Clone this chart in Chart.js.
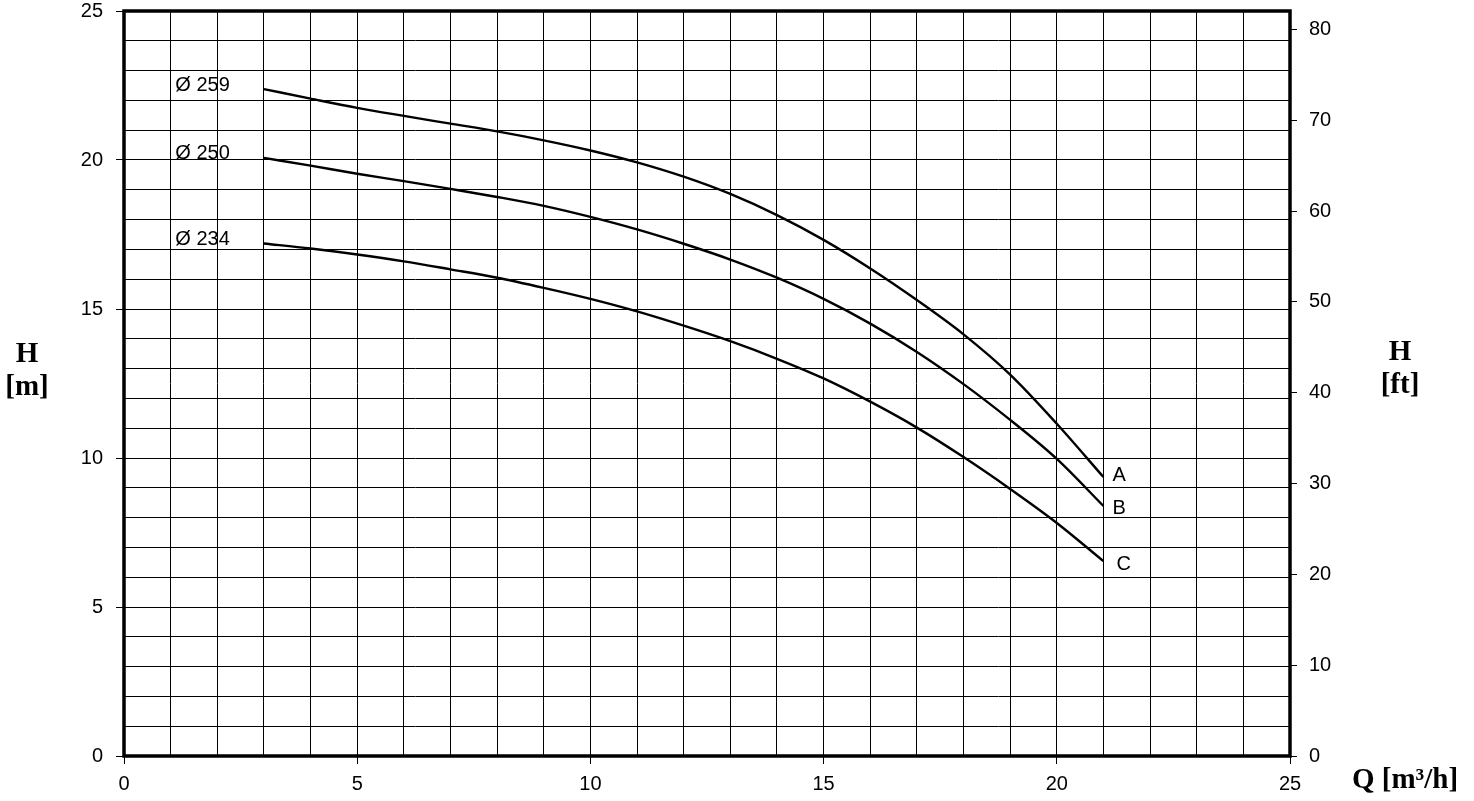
<!DOCTYPE html>
<html>
<head>
<meta charset="utf-8">
<script src="https://cdn.jsdelivr.net/npm/chart.js@4/dist/chart.umd.min.js"></script>
<style>
html,body{margin:0;padding:0;background:#fff;}
#wrap{position:relative;width:1474px;height:801px;}
</style>
</head>
<body>
<div id="wrap"><canvas id="c" width="1474" height="801"></canvas></div>
<script>
// ---- data ----
const flowQ = [3,4,5,6,7,8,9,10,11,12,13,14,15,16,17,18,19,20,21];
const headA = [22.38,22.06,21.75,21.48,21.22,20.96,20.66,20.32,19.92,19.44,18.86,18.15,17.32,16.36,15.30,14.15,12.80,11.15,9.36];
const headB = [20.07,19.81,19.54,19.29,19.03,18.76,18.46,18.09,17.67,17.19,16.66,16.05,15.34,14.51,13.56,12.48,11.28,9.97,8.39];
const headC = [17.20,17.03,16.83,16.60,16.33,16.05,15.71,15.34,14.92,14.44,13.92,13.33,12.67,11.89,11.02,10.03,8.96,7.82,6.54];
const curveLetters = ['A','B','C'];
const curveDiameters = ['Ø 259','Ø 250','Ø 234'];
const xTickLabels = [0,5,10,15,20,25];
const yTickLabels = [0,5,10,15,20,25];
const ftTickLabels = [0,10,20,30,40,50,60,70,80];
const M_TO_FT = 3.28084;

const series = [headA, headB, headC];
const datasets = series.map((h, i) => ({
  label: curveLetters[i],
  data: flowQ.map((q, j) => ({x: q, y: h[j]})),
  showLine: true,
  borderColor: '#000',
  borderWidth: 2.4,
  pointRadius: 0,
  cubicInterpolationMode: 'monotone',
  fill: false
}));

const tickFont = {family: 'Liberation Sans, Arial, sans-serif', size: 20};
const titleFont = 'bold 29px "Liberation Serif", "Times New Roman", serif';

const overlay = {
  id: 'overlay',
  afterDraw(chart) {
    const c = chart.ctx, a = chart.chartArea, xs = chart.scales.x, ys = chart.scales.y;
    c.save();
    // frame
    c.strokeStyle = '#000';
    c.lineWidth = 3.5;
    c.strokeRect(a.left, a.top, a.right - a.left, a.bottom - a.top);
    // curve labels
    c.fillStyle = '#000';
    c.font = '20px "Liberation Sans", Arial, sans-serif';
    c.textBaseline = 'middle';
    c.textAlign = 'left';
    series.forEach((h, i) => {
      const yFirst = ys.getPixelForValue(h[0]);
      c.fillText(curveDiameters[i], xs.getPixelForValue(1.1), yFirst - 4);
      const yLast = ys.getPixelForValue(h[h.length - 1]);
      const dx = i === 2 ? 13 : 9;
      const dy = i === 0 ? -2 : 3;
      c.fillText(curveLetters[i], xs.getPixelForValue(flowQ[flowQ.length - 1]) + dx, yLast + dy);
    });
    // axis titles
    c.font = titleFont;
    c.textAlign = 'center';
    c.fillText('H', 27, 355);
    c.fillText('[m]', 27, 388);
    c.fillText('H', 1400, 353);
    c.fillText('[ft]', 1400, 386);
    c.textAlign = 'left';
    c.fillText('Q [m³/h]', 1352, 781);
    c.restore();
  }
};

new Chart(document.getElementById('c'), {
  type: 'scatter',
  data: {datasets},
  options: {
    responsive: false,
    animation: false,
    layout: {padding: {top: 11, left: 0, right: 0, bottom: 0}},
    plugins: {legend: {display: false}, tooltip: {enabled: false}},
    scales: {
      x: {
        type: 'linear', min: 0, max: 25,
        afterFit(s) { s.height = 45; s.paddingLeft = 0; s.paddingRight = 0; },
        border: {display: false},
        grid: {color: '#000', lineWidth: 1, tickLength: 8,
               tickColor: ctx => (ctx.tick && xTickLabels.includes(ctx.tick.value)) ? '#000' : 'rgba(0,0,0,0)'},
        ticks: {stepSize: 1, color: '#000', font: tickFont, padding: 8, maxRotation: 0, autoSkip: false,
                callback: v => xTickLabels.includes(v) ? String(v) : ''}
      },
      y: {
        type: 'linear', position: 'left', min: 0, max: 25,
        afterFit(s) { s.width = 124; s.paddingTop = 0; s.paddingBottom = 0; },
        border: {display: false},
        grid: {color: '#000', lineWidth: 1, tickLength: 8,
               tickColor: ctx => (ctx.tick && yTickLabels.includes(ctx.tick.value)) ? '#000' : 'rgba(0,0,0,0)'},
        ticks: {stepSize: 1, color: '#000', font: tickFont, padding: 13, autoSkip: false,
                callback: v => yTickLabels.includes(v) ? String(v) : ''}
      },
      y2: {
        type: 'linear', position: 'right', min: 0, max: 25 * M_TO_FT,
        afterBuildTicks(s) { s.ticks = ftTickLabels.map(v => ({value: v})); },
        afterFit(s) { s.width = 184; s.paddingTop = 0; s.paddingBottom = 0; },
        border: {display: false},
        grid: {drawOnChartArea: false, color: '#000', tickLength: 7, tickColor: '#000'},
        ticks: {color: '#000', font: tickFont, padding: 12, autoSkip: false,
                callback: v => String(v)}
      }
    }
  },
  plugins: [overlay]
});
</script>
</body>
</html>
